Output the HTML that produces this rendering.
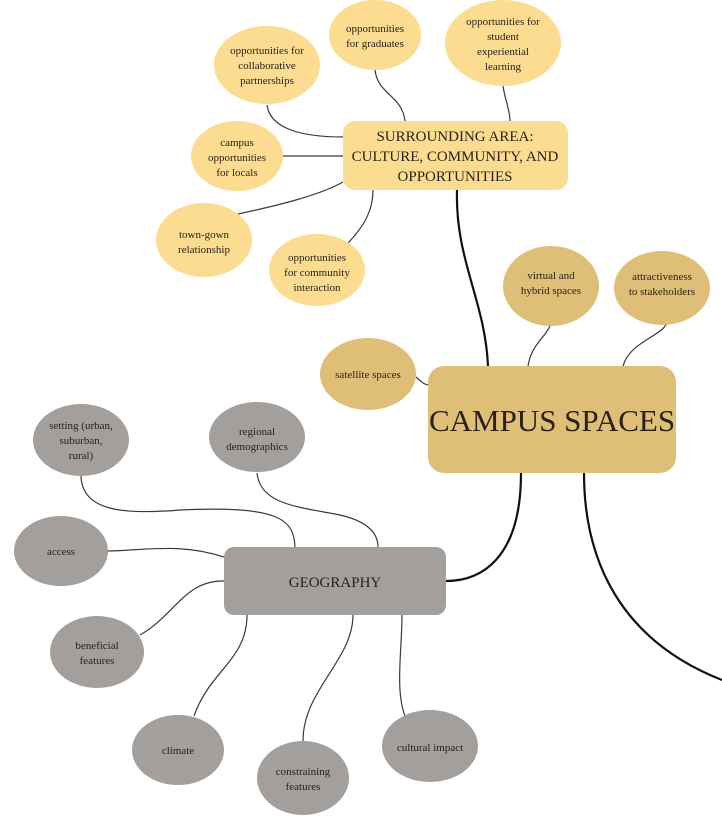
<!DOCTYPE html>
<html><head><meta charset="utf-8"><style>
html,body{margin:0;padding:0;background:#fff;}
svg{display:block;}
text{font-family:"Liberation Serif",serif;fill:#2a2218;}
</style></head><body>
<svg width="722" height="824" viewBox="0 0 722 824" xmlns="http://www.w3.org/2000/svg">
<g fill="none" stroke="#3a3a3a" stroke-width="1.2">
<!-- surrounding area children -->
<path d="M267,105 C270,128 300,137 343,137"/>
<path d="M375,70 C378,95 402,95 405,121"/>
<path d="M503,86 C505,100 510,110 510,121"/>
<path d="M283,156 L343,156"/>
<path d="M238,214 C280,205 320,195 343,182"/>
<path d="M348,243 C365,225 373,210 373,190"/>
<!-- campus children -->
<path d="M551,318 C552,335 532,340 528,366"/>
<path d="M667,320 C668,335 630,340 623,366"/>
<path d="M416,377 C422,382 424,385 430,385"/>
<!-- geography children -->
<path d="M81,476 C82,510 120,515 180,510 C280,505 294,520 295,547"/>
<path d="M257,473 C260,505 300,507 340,515 C370,522 378,535 378,547"/>
<path d="M108,551 C150,550 180,543 224,557"/>
<path d="M140,635 C175,615 185,580 224,581"/>
<path d="M194,716 C210,670 247,660 247,615"/>
<path d="M303,741 C303,690 353,660 353,615"/>
<path d="M405,716 C395,690 402,650 402,615"/>
</g>
<g fill="none" stroke="#111" stroke-width="2.2">
<path d="M457,190 C455,260 485,300 488,366"/>
<path d="M521,473 C521,560 480,581 446,581"/>
<path d="M584,473 C584,560 620,640 722,680"/>
</g>
<!-- yellow nodes -->
<g fill="#fbdc91">
<ellipse cx="267" cy="65" rx="53" ry="39"/>
<ellipse cx="375" cy="35" rx="46" ry="35"/>
<ellipse cx="503" cy="43" rx="58" ry="43"/>
<ellipse cx="237" cy="156" rx="46" ry="35"/>
<ellipse cx="204" cy="240" rx="48" ry="37"/>
<ellipse cx="317" cy="270" rx="48" ry="36"/>
<rect x="343" y="121" width="225" height="69" rx="12"/>
</g>
<g fill="#dfbf78">
<ellipse cx="551" cy="286" rx="48" ry="40"/>
<ellipse cx="662" cy="288" rx="48" ry="37"/>
<ellipse cx="368" cy="374" rx="48" ry="36"/>
<rect x="428" y="366" width="248" height="107" rx="16"/>
</g>
<g fill="#a29f9c">
<ellipse cx="81" cy="440" rx="48" ry="36"/>
<ellipse cx="257" cy="437" rx="48" ry="35"/>
<ellipse cx="61" cy="551" rx="47" ry="35"/>
<ellipse cx="97" cy="652" rx="47" ry="36"/>
<ellipse cx="178" cy="750" rx="46" ry="35"/>
<ellipse cx="303" cy="778" rx="46" ry="37"/>
<ellipse cx="430" cy="746" rx="48" ry="36"/>
<rect x="224" y="547" width="222" height="68" rx="10"/>
</g>
<g font-size="11" text-anchor="middle">
<text x="267" y="54">opportunities for</text><text x="267" y="69">collaborative</text><text x="267" y="84">partnerships</text>
<text x="375" y="32">opportunities</text><text x="375" y="47">for graduates</text>
<text x="503" y="25">opportunities for</text><text x="503" y="40">student</text><text x="503" y="55">experiential</text><text x="503" y="70">learning</text>
<text x="237" y="146">campus</text><text x="237" y="161">opportunities</text><text x="237" y="176">for locals</text>
<text x="204" y="238">town-gown</text><text x="204" y="253">relationship</text>
<text x="317" y="261">opportunities</text><text x="317" y="276">for community</text><text x="317" y="291">interaction</text>
<text x="551" y="279">virtual and</text><text x="551" y="294">hybrid spaces</text>
<text x="662" y="280">attractiveness</text><text x="662" y="295">to stakeholders</text>
<text x="368" y="378">satellite spaces</text>
<text x="81" y="429">setting (urban,</text><text x="81" y="444">suburban,</text><text x="81" y="459">rural)</text>
<text x="257" y="435">regional</text><text x="257" y="450">demographics</text>
<text x="61" y="555">access</text>
<text x="97" y="649">beneficial</text><text x="97" y="664">features</text>
<text x="178" y="754">climate</text>
<text x="303" y="775">constraining</text><text x="303" y="790">features</text>
<text x="430" y="751">cultural impact</text>
</g>
<g text-anchor="middle">
<text x="455" y="141" font-size="15">SURROUNDING AREA:</text>
<text x="455" y="161" font-size="15">CULTURE,  COMMUNITY, AND</text>
<text x="455" y="181" font-size="15">OPPORTUNITIES</text>
<text x="552" y="431" font-size="31">CAMPUS SPACES</text>
<text x="335" y="587" font-size="15">GEOGRAPHY</text>
</g>
</svg>
</body></html>
